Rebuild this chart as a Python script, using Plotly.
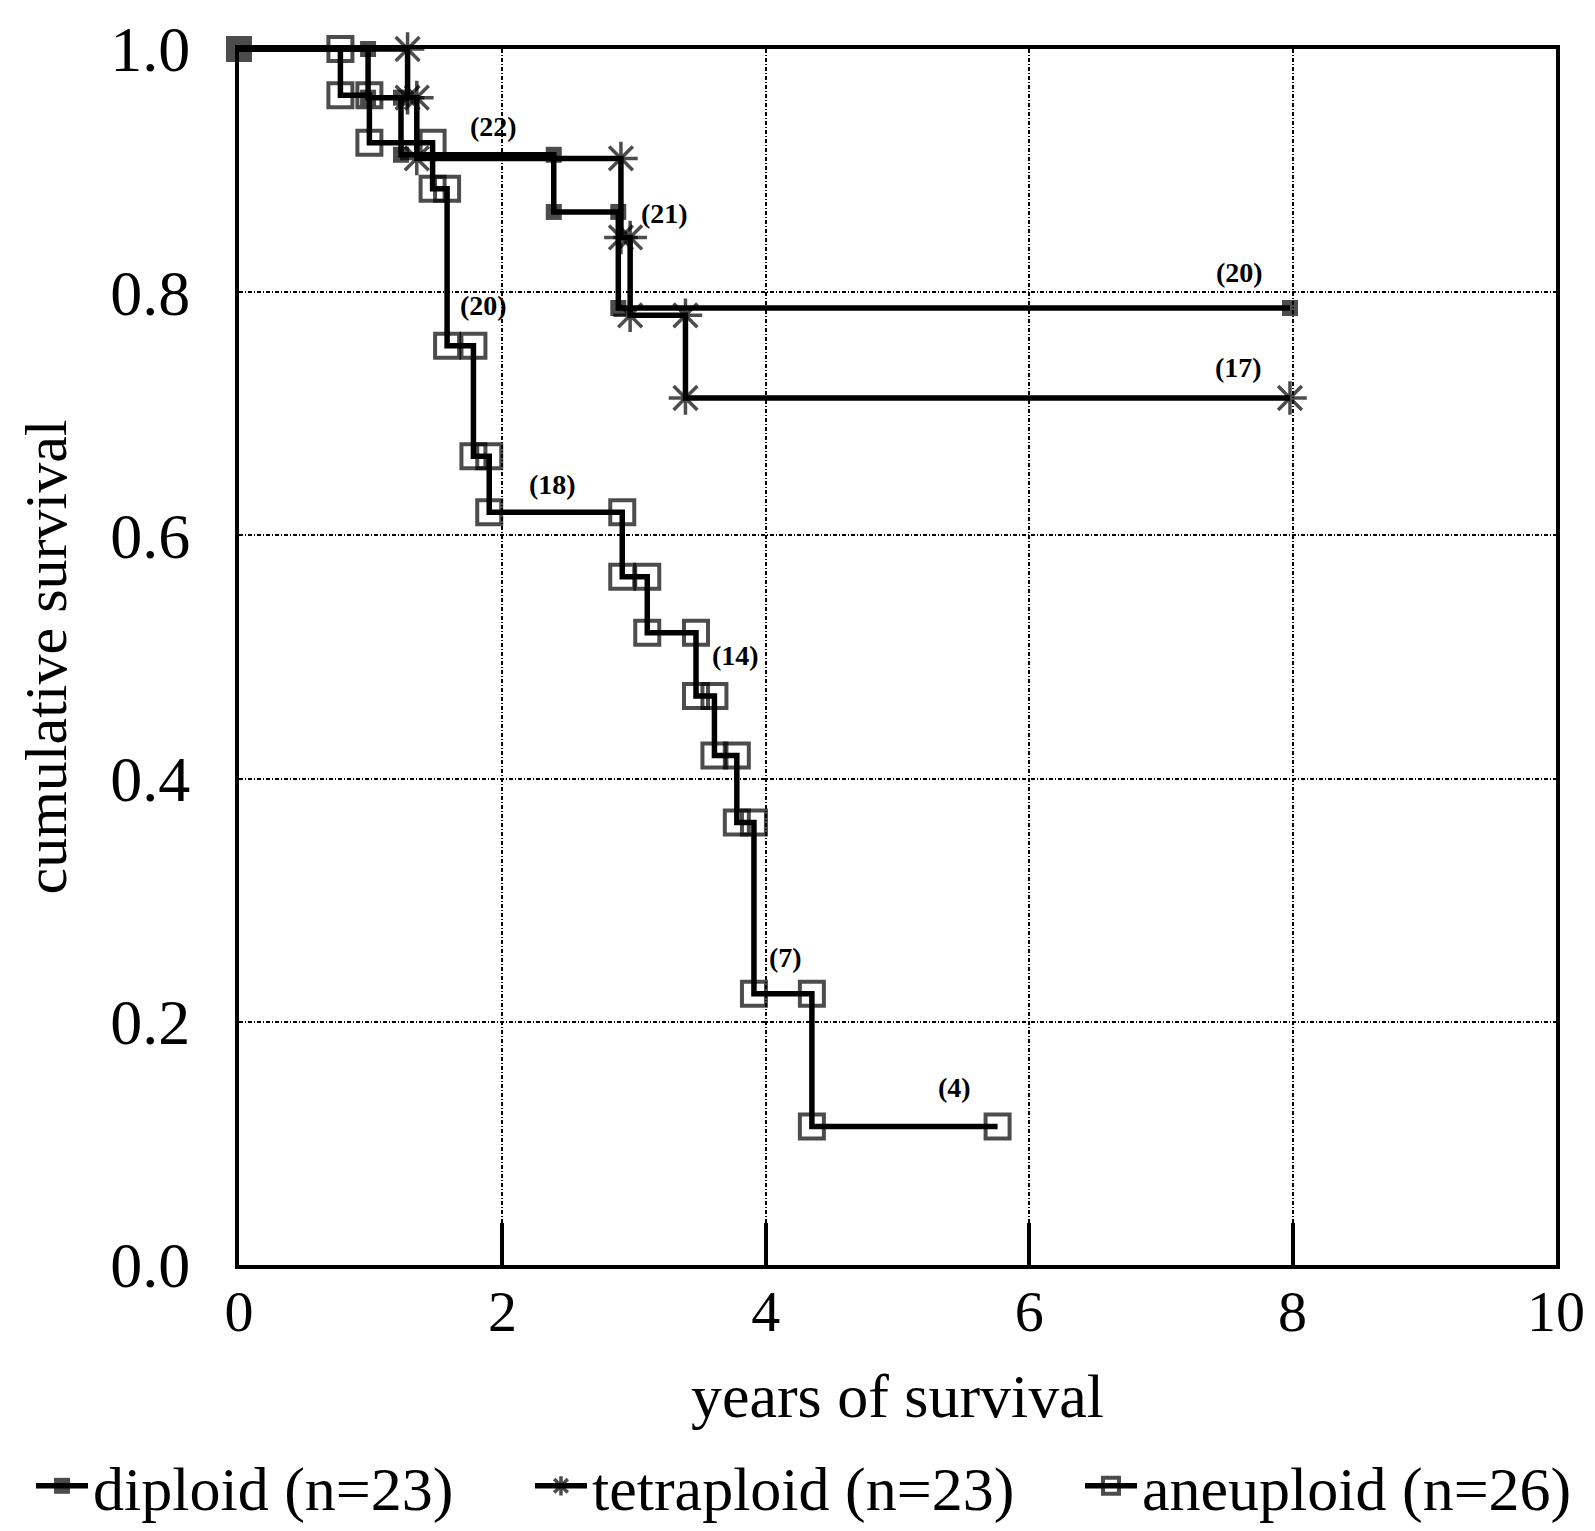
import plotly.graph_objects as go

# ---- data ----
diploid_times = [0.98, 1.23, 2.39, 2.88]
diploid_surv = [0.960, 0.913, 0.866, 0.787]
diploid_end = 7.98

tetraploid_times = [1.28, 1.35, 2.90, 2.97, 3.39]
tetraploid_surv = [0.960, 0.910, 0.845, 0.781, 0.713]
tetraploid_end = 7.98

aneuploid_times = [0.77, 0.99, 1.47, 1.58, 1.78, 1.90, 2.91, 3.10, 3.47, 3.61, 3.78, 3.91, 4.35]
aneuploid_surv = [0.962, 0.923, 0.885, 0.756, 0.665, 0.619, 0.566, 0.520, 0.468, 0.419, 0.364, 0.223, 0.114]
aneuploid_end = 5.76

group_names = ["diploid (n=23)", "tetraploid (n=23)", "aneuploid (n=26)"]

risk_labels = ["(22)", "(21)", "(20)", "(20)", "(17)", "(18)", "(14)", "(7)", "(4)"]
risk_x = [1.93, 3.23, 1.86, 7.60, 7.59, 2.38, 3.77, 4.15, 5.43]
risk_y = [0.936, 0.865, 0.789, 0.816, 0.738, 0.642, 0.501, 0.253, 0.146]

x_ticks = [0, 2, 4, 6, 8, 10]
y_ticks = [0.0, 0.2, 0.4, 0.6, 0.8, 1.0]

FONT = "Liberation Serif"
W, H = 1579, 1515   # page adds an 8px body margin on every side


def km_path(times, surv, end):
    xs, ys = [0.0], [1.0]
    prev = 1.0
    for t, s in zip(times, surv):
        xs += [t, t]
        ys += [prev, s]
        prev = s
    xs.append(end)
    ys.append(prev)
    return xs, ys


fig = go.Figure()

# aneuploid
ax, ay = km_path(aneuploid_times, aneuploid_surv, aneuploid_end)
fig.add_trace(go.Scatter(
    x=ax, y=ay, mode="lines+markers", name=group_names[2], legend="legend3",
    line=dict(color="black", width=5.5), cliponaxis=False,
    marker=dict(symbol="square-open", size=[0] + [24] * (len(ax) - 1),
                color="black", line=dict(width=4, color="black")),
))

# tetraploid
tx, ty = km_path(tetraploid_times, tetraploid_surv, tetraploid_end)
fig.add_trace(go.Scatter(
    x=tx, y=ty, mode="lines+markers", name=group_names[1], legend="legend2",
    line=dict(color="black", width=5.5), cliponaxis=False,
    marker=dict(symbol="asterisk-open", size=[0] + [28] * (len(tx) - 1),
                color="black", line=dict(width=3.5, color="black")),
))

# diploid
dx, dy = km_path(diploid_times, diploid_surv, diploid_end)
fig.add_trace(go.Scatter(
    x=dx, y=dy, mode="lines+markers", name=group_names[0], legend="legend",
    line=dict(color="black", width=5.5), cliponaxis=False,
    marker=dict(symbol="square", size=[26] + [16] * (len(dx) - 1),
                color="black", line=dict(width=0)),
))

for txt, x, y in zip(risk_labels, risk_x, risk_y):
    fig.add_annotation(x=x, y=y, text="<b>" + txt + "</b>", showarrow=False,
                       font=dict(family=FONT, size=28, color="black"))

grid_dash = "4px,2px,1px,2px"

fig.update_xaxes(
    range=[0, 10], tickvals=x_ticks, ticktext=[str(v) for v in x_ticks],
    showgrid=True, gridcolor="black", gridwidth=1.5, griddash=grid_dash,
    showline=True, linecolor="black", linewidth=4, mirror=True,
    ticks="inside", ticklen=42, tickwidth=4, tickcolor="black",
    zeroline=False, automargin=False, ticklabelstandoff=-8,
    tickfont=dict(family=FONT, size=58, color="black"),
    title=dict(text="years of survival", font=dict(family=FONT, size=62, color="black"),
               standoff=32),
)
fig.update_yaxes(
    range=[0, 1], tickvals=y_ticks, ticktext=["%.1f" % v for v in y_ticks],
    showgrid=True, gridcolor="black", gridwidth=1.5, griddash=grid_dash,
    showline=True, linecolor="black", linewidth=4, mirror=True,
    ticks="", zeroline=False, automargin=False, ticklabelstandoff=32,
    tickfont=dict(family=FONT, size=64, color="black"),
    title=dict(text="cumulative survival", font=dict(family=FONT, size=60, color="black"),
               standoff=25),
)

leg_common = dict(
    orientation="h", xref="container", yref="container", xanchor="left",
    yanchor="middle", y=(H - 1478) / H, font=dict(family=FONT, size=62, color="black"),
    itemwidth=52, bgcolor="rgba(0,0,0,0)",
)

fig.update_layout(
    width=W, height=H,
    margin=dict(l=231, r=31, t=41, b=258, autoexpand=False),
    paper_bgcolor="white", plot_bgcolor="white",
    showlegend=True,
    legend=dict(x=23 / W, **leg_common),
    legend2=dict(x=522 / W, **leg_common),
    legend3=dict(x=1072 / W, **leg_common),
)

fig.write_html("out.html")
